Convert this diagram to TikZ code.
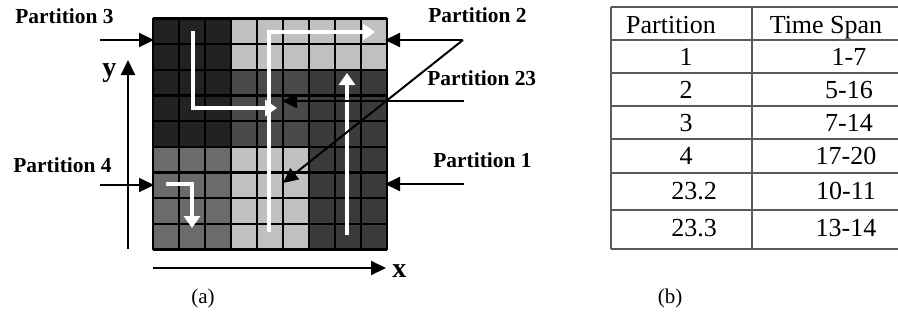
\documentclass[tikz,border=0pt]{standalone}
\usepackage{fontspec}
\setmainfont{Liberation Serif}
\usetikzlibrary{arrows.meta}
\definecolor{cellblack}{HTML}{222222}
\definecolor{celllight}{HTML}{C0C0C0}
\definecolor{cellmid}{HTML}{4A4A4A}
\definecolor{celldark}{HTML}{3B3B3B}
\definecolor{cellgray}{HTML}{6B6B6B}
\definecolor{tablerule}{HTML}{5A5A5A}
\tikzset{
  lab/.style={font=\fontsize{10.7}{12}\selectfont\bfseries, inner sep=0pt, anchor=base west},
  axislab/.style={font=\fontsize{14}{16}\selectfont\bfseries, inner sep=0pt, anchor=base west},
  cell/.style={font=\fontsize{13}{15}\selectfont, inner sep=0pt, anchor=base},
  caption/.style={font=\fontsize{10.5}{12}\selectfont, inner sep=0pt},
  pointer/.style={line width=1pt, -{Triangle[length=7.5pt,width=7pt]}},
  walk/.style={white, line width=2pt, line join=miter, -{Triangle[length=6pt,width=8pt]}},
  gridline/.style={black, line width=1.2pt},
  tline/.style={tablerule, line width=0.75pt}
}
\begin{document}
\begin{tikzpicture}[x=0.5pt, y=-0.5pt]
\useasboundingbox (0,0) rectangle (898,322);

% ---------- (a) the 9x9 grid of cells ----------
\def\gx{153}\def\gy{18.3}\def\cw{26}\def\ch{25.7}
\fill[cellblack] (\gx,\gy) rectangle ++(3*\cw,5*\ch);
\fill[celllight] ({\gx+3*\cw},\gy) rectangle ++(6*\cw,2*\ch);
\fill[cellmid]   ({\gx+3*\cw},{\gy+2*\ch}) rectangle ++(3*\cw,3*\ch);
\fill[celldark]  ({\gx+6*\cw},{\gy+2*\ch}) rectangle ++(3*\cw,7*\ch);
\fill[cellgray]  (\gx,{\gy+5*\ch}) rectangle ++(3*\cw,4*\ch);
\fill[celllight] ({\gx+3*\cw},{\gy+5*\ch}) rectangle ++(3*\cw,4*\ch);
\foreach \i in {0,...,9} {
  \draw[gridline] ({\gx+\cw*\i},\gy) -- ({\gx+\cw*\i},{\gy+9*\ch});
  \draw[gridline] (\gx,{\gy+\ch*\i}) -- ({\gx+9*\cw},{\gy+\ch*\i});
}

% traversal paths inside the partitions
\draw[walk] (193,31) -- (193,108) -- (277,108);
\draw[walk] (269,232) -- (269,32) -- (375,32);
\draw[walk] (347,235) -- (347,73);
\draw[walk] (166,184) -- (192,184) -- (192,228);

% partition labels
\node[lab] (p3)  at (15,23)  {Partition 3};
\node[lab] (p4)  at (13,172) {Partition 4};
\node[lab] (p2)  at (428,22) {Partition 2};
\node[lab] (p23) at (427,85) {Partition 23};
\node[lab] (p1)  at (433,167) {Partition 1};

% pointer end points
\coordinate (p3s) at (100,40);  \coordinate (p3e) at (154,40);
\coordinate (p4s) at (100,185); \coordinate (p4e) at (154,185);
\coordinate (p2s) at (463,40);  \coordinate (p2e) at (385,40);
\coordinate (p2d) at (283,183);
\coordinate (p23s) at (464,101); \coordinate (p23e) at (282,101);
\coordinate (p1s) at (464,184); \coordinate (p1e) at (385,184);

\draw[pointer] (p3s) -- (p3e);
\draw[pointer] (p4s) -- (p4e);
\draw[pointer] (p2s) -- (p2e);
\draw[pointer] (p2s) -- (p2d);
\draw[pointer] (p23s) -- (p23e);
\draw[pointer] (p1s) -- (p1e);

% axes
\coordinate (ya) at (128,249); \coordinate (yb) at (128,60);
\coordinate (xa) at (153,268); \coordinate (xb) at (386,268);
\draw[pointer] (ya) -- (yb);
\draw[pointer] (xa) -- (xb);
\node[axislab] (ylab) at (102,76) {y};
\node[axislab] (xlab) at (392,277) {x};

\node[caption] (capa) at (203,298) {(a)};

% ---------- (b) table of time spans ----------
\draw[tline] (611,7) -- (611,249);
\draw[tline] (752,7) -- (752,249);
\foreach \y in {7,40,73,106,139,173,210,249}
  \draw[tline] (611,\y) -- (898,\y);

\node[cell] (h1) at (671,33) {Partition};
\node[cell] (h2) at (826,33) {Time Span};
\node[cell] (r1a) at (686,65)  {1};    \node[cell] (r1b) at (849,65)  {1-7};
\node[cell] (r2a) at (686,98)  {2};    \node[cell] (r2b) at (849,98)  {5-16};
\node[cell] (r3a) at (686,131) {3};    \node[cell] (r3b) at (849,131) {7-14};
\node[cell] (r4a) at (686,164) {4};    \node[cell] (r4b) at (846,164) {17-20};
\node[cell] (r5a) at (694,199) {23.2}; \node[cell] (r5b) at (846,199) {10-11};
\node[cell] (r6a) at (694,236) {23.3}; \node[cell] (r6b) at (846,236) {13-14};

\node[caption] (capb) at (670,298) {(b)};
\end{tikzpicture}
\end{document}
